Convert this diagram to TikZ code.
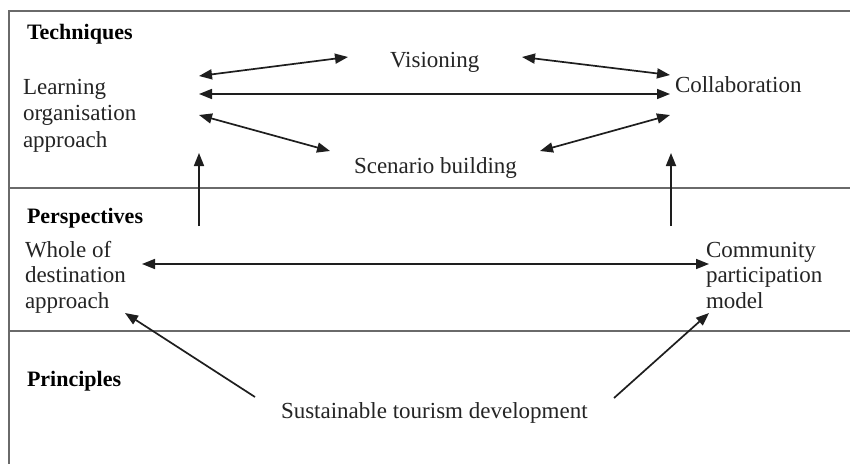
\documentclass[tikz,border=0pt]{standalone}
\usepackage{fontspec}
\setmainfont{Liberation Serif}
\usetikzlibrary{arrows.meta}
\definecolor{txt}{HTML}{242424}
\definecolor{frameclr}{HTML}{6A6A6A}
\definecolor{arrclr}{HTML}{1E1E1E}
\begin{document}
\begin{tikzpicture}[x=1pt,y=-1pt,
  lbl/.style={inner sep=0pt,outer sep=0pt,text=txt,font=\fontsize{23}{26.5}\selectfont},
  lblb/.style={lbl,align=left,font=\fontsize{23}{25.5}\selectfont},
  lblt/.style={lbl,align=left},
  head/.style={inner sep=0pt,outer sep=0pt,text=black,font=\fontsize{22}{24}\selectfont\bfseries},
  frameline/.style={draw=frameclr,line width=1.9pt},
  conn/.style={draw=arrclr,line width=1.7pt,-{Triangle[length=13pt,width=10pt]}},
  biconn/.style={conn,{Triangle[length=13pt,width=10pt]}-{Triangle[length=13pt,width=10pt]}}]
\useasboundingbox (0,0) rectangle (850,463);
\fill[white] (0,0) rectangle (850,463);
% frame
\coordinate (fTL) at (9,11);
\coordinate (fTR) at (851,11);
\coordinate (fBL) at (9,464);
\coordinate (d1L) at (9,188);
\coordinate (d1R) at (851,188);
\coordinate (d2L) at (9,331);
\coordinate (d2R) at (851,331);
\draw[frameline] (fTR) -- (fTL) -- (fBL);
\draw[frameline] (d1L) -- (d1R);
\draw[frameline] (d2L) -- (d2R);
% headings
\node[head,anchor=base west] (tech) at (27,39) {Techniques};
\node[head,anchor=base west] (persp) at (27,223) {Perspectives};
\node[head,anchor=base west] (princ) at (27,386) {Principles};
% techniques
\node[lblt,anchor=north west] (learn) at (23,75.45) {\strut Learning\\organisation\\approach};
\node[lbl,anchor=base west] (vis) at (390,67) {Visioning};
\node[lbl,anchor=base west] (coll) at (675,92) {Collaboration};
\node[lbl,anchor=base west] (scen) at (354,173) {Scenario building};
% perspectives
\node[lblb,anchor=north west] (whole) at (25,239.15) {\strut Whole of\\destination\\approach};
\node[lblb,anchor=north west] (comm) at (706,239.15) {\strut Community\\participation\\model};
% principles
\node[lbl,anchor=base west] (sust) at (281,418) {Sustainable tourism development};
% connector ends
\coordinate (lA) at (199,76);
\coordinate (lB) at (199,94);
\coordinate (lC) at (199,115);
\coordinate (vL) at (348,57);
\coordinate (vR) at (522,57);
\coordinate (cA) at (670,75);
\coordinate (cB) at (670,94);
\coordinate (cC) at (670,115);
\coordinate (sL) at (330,151);
\coordinate (sR) at (540,151);
\coordinate (lUp) at (199,153);
\coordinate (cUp) at (671,153);
\coordinate (wTop) at (199,226);
\coordinate (cmTop) at (671,226);
\coordinate (wR) at (142,264);
\coordinate (cmL) at (709,264);
\coordinate (wB) at (125,313);
\coordinate (cmB) at (709,313);
\coordinate (sustL) at (255,397);
\coordinate (sustR) at (614,398);
% connectors
\draw[biconn] (lA) -- (vL);
\draw[biconn] (lB) -- (cB);
\draw[biconn] (lC) -- (sL);
\draw[biconn] (vR) -- (cA);
\draw[biconn] (sR) -- (cC);
\draw[conn] (wTop) -- (lUp);
\draw[conn] (cmTop) -- (cUp);
\draw[biconn] (wR) -- (cmL);
\draw[conn] (sustL) -- (wB);
\draw[conn] (sustR) -- (cmB);
\end{tikzpicture}
\end{document}
